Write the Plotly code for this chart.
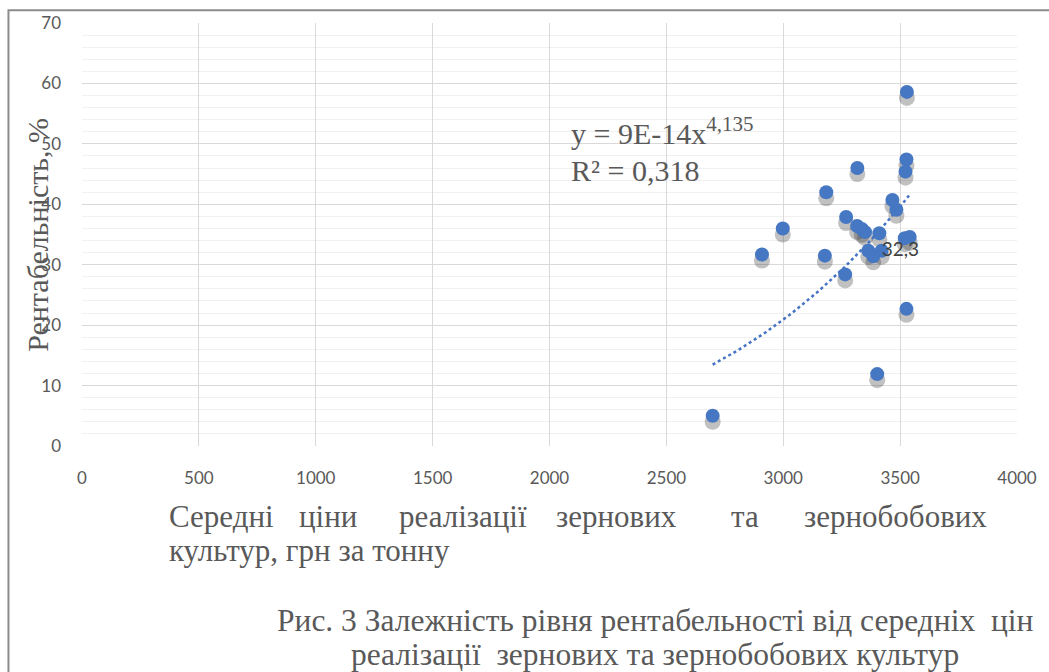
import numpy as np
import plotly.graph_objects as go

# average selling price of grain and legumes, UAH per tonne
price = [3529, 3317, 3527, 3523, 3184, 3467, 3484, 2998, 3269, 3316, 3336, 3350,
         3411, 3520, 3541, 2909, 3178, 3364, 3385, 3421, 3265, 3527, 3402, 2698]
# profitability, %
profit = [58.6, 46.0, 47.4, 45.4, 42.0, 40.7, 39.1, 36.0, 37.9, 36.4, 35.9, 35.4,
          35.2, 34.4, 34.6, 31.7, 31.5, 32.3, 31.4, 32.3, 28.4, 22.7, 11.9, 5.0]
label_idx = 19
label_text = "32,3"

x_ticks = [0, 500, 1000, 1500, 2000, 2500, 3000, 3500, 4000]
y_ticks = [0, 10, 20, 30, 40, 50, 60, 70]

W, H = 1049, 672
L, R, T, B = 82, 1023, 18, 446


def px(xp):
    return (xp - L) / (R - L)


def py(yp):
    return (B - yp) / (B - T)


xs = np.array(price, dtype=float)
ys = np.array(profit, dtype=float)

# power trendline (least squares in log-log space, like Excel)
b, ln_a = np.polyfit(np.log(xs), np.log(ys), 1)
trend_x = np.linspace(xs.min(), xs.max(), 60)
trend_y = np.exp(ln_a) * trend_x ** b

fig = go.Figure()

# soft shadow under the markers
fig.add_trace(go.Scatter(
    x=xs, y=ys - 1.0, mode="markers",
    marker=dict(size=16, color="rgba(50,50,50,0.3)", line=dict(width=0)),
    hoverinfo="skip", showlegend=False,
))

fig.add_trace(go.Scatter(
    x=trend_x, y=trend_y, mode="lines",
    line=dict(color="#4472c4", width=2.5, dash="dot"),
    showlegend=False,
))

fig.add_trace(go.Scatter(
    x=xs, y=ys, mode="markers",
    marker=dict(size=14, color="#4677c2", line=dict(width=0)),
    showlegend=False,
))

fig.add_trace(go.Scatter(
    x=[xs[label_idx]], y=[ys[label_idx]], mode="text",
    text=[label_text], textposition="middle right",
    textfont=dict(family="Lato", size=19, color="#404040"),
    showlegend=False,
))

serif = "Liberation Serif"
grey = "#595959"

annotations = [
    dict(x=px(572), y=py(127), text="y = 9E-14x<sup>4,135</sup>", xanchor="left",
         font=dict(family=serif, size=30, color=grey)),
    dict(x=px(572), y=py(167), text="R² = 0,318", xanchor="left",
         font=dict(family=serif, size=30, color=grey)),
    dict(x=px(37), y=py(232), text="Рентабельність, %", textangle=-90,
         font=dict(family=serif, size=30, color=grey)),
    dict(x=px(168), y=py(517), text="Середні", xanchor="left"),
    dict(x=px(329.5), y=py(517), text="ціни"),
    dict(x=px(465), y=py(517), text="реалізації"),
    dict(x=px(619.5), y=py(517), text="зернових"),
    dict(x=px(749), y=py(517), text="та"),
    dict(x=px(995), y=py(517), text="зернобобових", xanchor="right"),
    dict(x=px(168), y=py(552), text="культур, грн за тонну", xanchor="left"),
    dict(x=px(659), y=py(623), text="Рис. 3 Залежність рівня рентабельності від середніх  цін",
         font=dict(family=serif, size=31.5, color=grey)),
    dict(x=px(659), y=py(657), text="реалізації  зернових та зернобобових культур",
         font=dict(family=serif, size=31.5, color=grey)),
]
for a in annotations:
    a.setdefault("xanchor", "center")
    a.setdefault("font", dict(family=serif, size=31, color=grey))
    a.update(xref="paper", yref="paper", yanchor="middle", showarrow=False)

fig.update_layout(
    width=W, height=H,
    margin=dict(l=L, r=W - R, t=T, b=H - B),
    paper_bgcolor="white", plot_bgcolor="white",
    annotations=annotations,
    shapes=[dict(type="rect", xref="paper", yref="paper",
                 x0=px(8), x1=px(1070), y0=py(5), y1=py(700),
                 line=dict(color="#8c8c8c", width=2))],
)

fig.update_xaxes(
    range=[0, 4000], tickvals=x_ticks, showgrid=True, gridcolor="#d9d9d9",
    zeroline=False, showline=False, ticks="", ticklabelstandoff=20,
    tickfont=dict(family="Lato", size=17, color=grey),
)
fig.update_yaxes(
    range=[0, 70], tickvals=y_ticks, showgrid=True, gridcolor="#d9d9d9",
    zeroline=False, showline=False, ticks="", ticklabelstandoff=20,
    minor=dict(dtick=2, showgrid=True, gridcolor="#f0f0f0"),
    tickfont=dict(family="Lato", size=17, color=grey),
)

fig.write_html("out.html", config={"displayModeBar": False},
               post_script="document.body.style.margin='0';")
